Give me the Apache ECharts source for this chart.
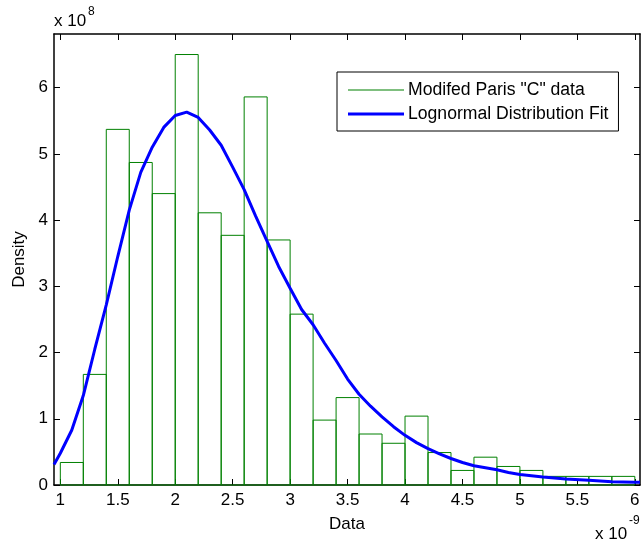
<!DOCTYPE html>
<html>
<head>
<meta charset="utf-8">
<script src="https://cdn.jsdelivr.net/npm/echarts@6/dist/echarts.min.js"></script>
<style>
html,body{margin:0;padding:0;background:#fff;}
#chart{width:643px;height:546px;}
</style>
</head>
<body>
<div id="chart"></div>
<script>
// ---- data (x in units of 1e-9, density in units of 1e8) ----
var binEdges = [1.0, 1.2, 1.4, 1.6, 1.8, 2.0, 2.2, 2.4, 2.6, 2.8, 3.0, 3.2, 3.4, 3.6, 3.8, 4.0, 4.2, 4.4, 4.6, 4.8, 5.0, 5.2, 5.4, 5.6, 5.8, 6.0];
var binDensity = [0.34, 1.67, 5.37, 4.87, 4.40, 6.50, 4.11, 3.77, 5.86, 3.70, 2.58, 0.98, 1.32, 0.77, 0.63, 1.04, 0.49, 0.22, 0.42, 0.28, 0.22, 0.13, 0.13, 0.13, 0.13];
var fitX = [0.945, 1.0, 1.1, 1.2, 1.3, 1.4, 1.5, 1.6, 1.7, 1.8, 1.9, 2.0, 2.1, 2.2, 2.3, 2.4, 2.5, 2.6, 2.7, 2.8, 2.9, 3.0, 3.1, 3.2, 3.3, 3.4, 3.5, 3.6, 3.7, 3.8, 3.9, 4.0, 4.1, 4.2, 4.3, 4.4, 4.5, 4.6, 4.7, 4.8, 4.9, 5.0, 5.2, 5.4, 5.6, 5.8, 6.0, 6.045];
var fitY = [0.31, 0.48, 0.83, 1.35, 2.05, 2.72, 3.45, 4.15, 4.72, 5.10, 5.40, 5.58, 5.63, 5.55, 5.36, 5.13, 4.80, 4.46, 4.06, 3.68, 3.30, 2.97, 2.65, 2.42, 2.14, 1.88, 1.60, 1.37, 1.19, 1.03, 0.88, 0.75, 0.64, 0.55, 0.47, 0.40, 0.34, 0.29, 0.26, 0.23, 0.19, 0.16, 0.12, 0.09, 0.07, 0.05, 0.04, 0.04];
var xTicks = [1, 1.5, 2, 2.5, 3, 3.5, 4, 4.5, 5, 5.5, 6];
var yTicks = [0, 1, 2, 3, 4, 5, 6];
var seriesNames = ['Modifed Paris "C" data', 'Lognormal Distribution Fit'];
var xRange = [0.945, 6.045];
var yRange = [0, 6.81];

// ---- build ----
var histData = binDensity.map(function (h, i) { return [binEdges[i], binEdges[i + 1], h]; });
var fitData = fitX.map(function (x, i) { return [x, fitY[i]]; });

var FONT = "'Liberation Sans', Arial, Helvetica, sans-serif";
var black = '#000';

function xAxisCfg(pos, showLabel) {
  return {
    type: 'value', position: pos, min: xRange[0], max: xRange[1],
    splitLine: { show: false },
    axisLine: { show: true, onZero: false, lineStyle: { color: black, width: 1.5 } },
    axisTick: { show: true, inside: true, length: 6, customValues: xTicks, lineStyle: { color: black, width: 1 } },
    axisLabel: { show: showLabel, customValues: xTicks, margin: 7, color: black, fontSize: 17, fontFamily: FONT },
    name: showLabel ? 'Data' : '', nameLocation: 'middle', nameGap: 31,
    nameTextStyle: { color: black, fontSize: 17, fontFamily: FONT }
  };
}
function yAxisCfg(pos, showLabel) {
  return {
    type: 'value', position: pos, min: yRange[0], max: yRange[1],
    splitLine: { show: false },
    axisLine: { show: true, onZero: false, lineStyle: { color: black, width: 1.5 } },
    axisTick: { show: true, inside: true, length: 6, customValues: yTicks, lineStyle: { color: black, width: 1 } },
    axisLabel: { show: showLabel, customValues: yTicks, margin: 6, color: black, fontSize: 17, fontFamily: FONT },
    name: showLabel ? 'Density' : '', nameLocation: 'middle', nameGap: 26,
    nameTextStyle: { color: black, fontSize: 17, fontFamily: FONT }
  };
}

var chart = echarts.init(document.getElementById('chart'), null, { renderer: 'canvas' });
chart.setOption({
  animation: false,
  backgroundColor: '#fff',
  grid: { left: 54, right: 3, top: 34, bottom: 61, containLabel: false },
  xAxis: [xAxisCfg('bottom', true), xAxisCfg('top', false)],
  yAxis: [yAxisCfg('left', true), yAxisCfg('right', false)],
  legend: {
    orient: 'vertical', left: 337, top: 72,
    backgroundColor: '#fff', borderColor: black, borderWidth: 1,
    padding: [9, 10, 8, 11], itemGap: 6,
    itemWidth: 56, itemHeight: 3, symbolKeepAspect: true,
    textStyle: { color: black, fontSize: 17.6, fontFamily: FONT, lineHeight: 17, padding: [0, 0, 0, -1] },
    data: [
      { name: seriesNames[0], icon: 'path://M0 0H56V1H0Z', itemStyle: { color: '#008000' } },
      { name: seriesNames[1], icon: 'path://M0 0H56V3H0Z', itemStyle: { color: '#0000ff' } }
    ]
  },
  graphic: [
    { type: 'text', left: 54, top: 13, style: { text: 'x 10', fill: black, font: '17px ' + FONT } },
    { type: 'text', left: 88, top: 6, style: { text: '8', fill: black, font: '12px ' + FONT } },
    { type: 'text', left: 595, top: 526, style: { text: 'x 10', fill: black, font: '17px ' + FONT } },
    { type: 'text', left: 629, top: 515, style: { text: '-9', fill: black, font: '12px ' + FONT } }
  ],
  series: [
    {
      name: seriesNames[0], type: 'custom', xAxisIndex: 0, yAxisIndex: 0,
      itemStyle: { color: '#008000' },
      data: histData,
      encode: { x: [0, 1], y: 2 },
      renderItem: function (params, api) {
        var p0 = api.coord([api.value(0), api.value(2)]);
        var p1 = api.coord([api.value(1), 0]);
        return {
          type: 'rect',
          shape: { x: p0[0], y: p0[1], width: p1[0] - p0[0], height: p1[1] - p0[1] },
          style: { fill: 'none', stroke: '#008000', lineWidth: 1 }
        };
      },
      z: 2
    },
    {
      name: seriesNames[1], type: 'line', xAxisIndex: 0, yAxisIndex: 0,
      data: fitData, showSymbol: false, symbol: 'none',
      lineStyle: { color: '#0000ff', width: 3 }, itemStyle: { color: '#0000ff' },
      z: 3
    }
  ]
});
</script>
</body>
</html>
